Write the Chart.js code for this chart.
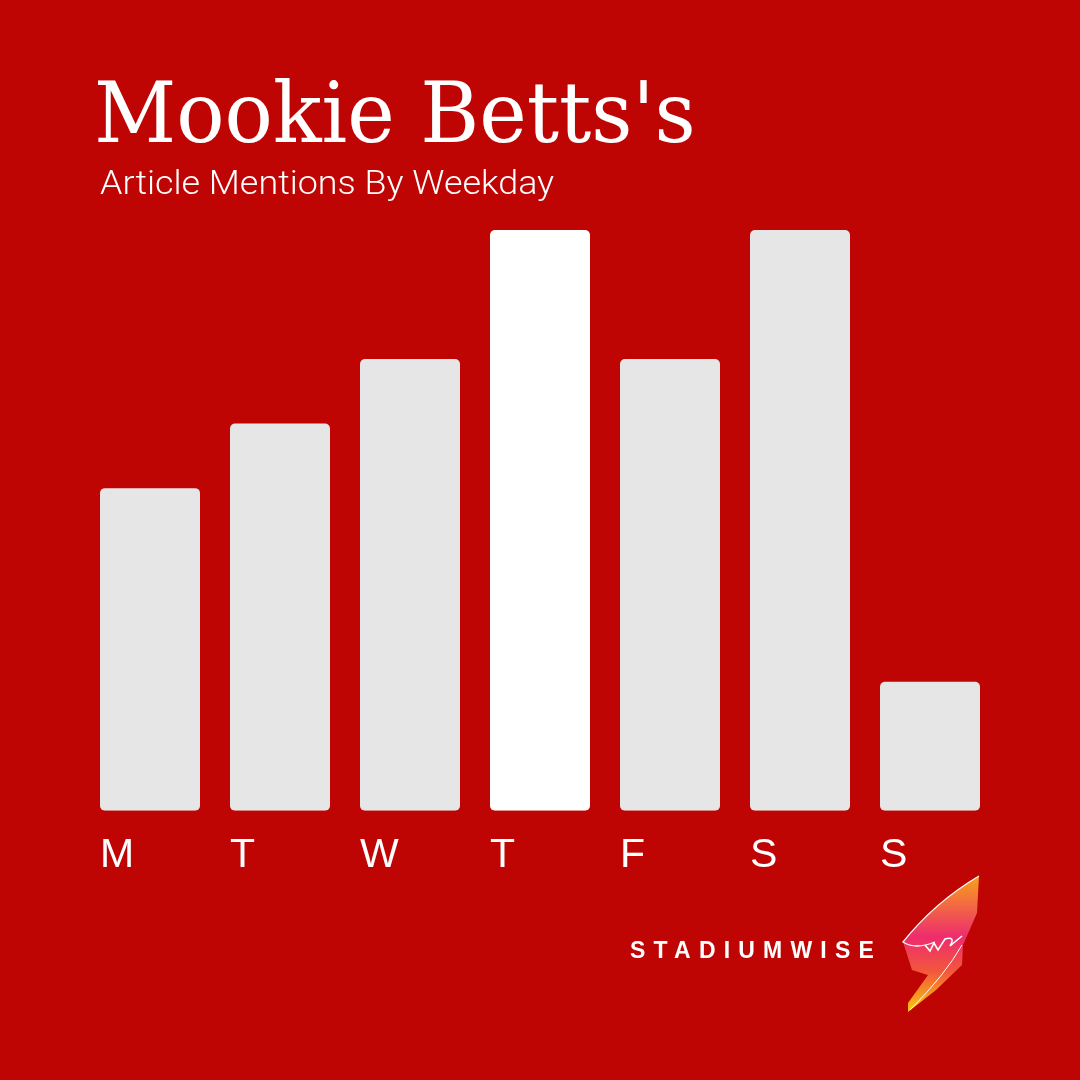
<!DOCTYPE html>
<html lang="en">
<head>
    <meta charset="UTF-8">
    <title>Mookie Betts's Article Mentions By Weekday</title>
    <script src="https://cdn.jsdelivr.net/npm/chart.js"></script>
    <style>
        html, body { margin: 0; padding: 0; }
        body { width: 1080px; height: 1080px; background: #BE0504; position: relative; overflow: hidden; font-family: 'Liberation Sans', Arial, sans-serif; }
        .txt { position: absolute; color: #fff; line-height: 1; white-space: nowrap; }
        .title { font-family: 'DejaVu Serif', serif; font-size: 84px; }
        .subtitle { font-family: Roboto, 'Liberation Sans', sans-serif; font-weight: 300; font-size: 34px; }
        .chart-wrap { position: absolute; left: 0; top: 0; width: 1080px; height: 1080px; }
        .brand { position: absolute; left: 630px; top: 939px; color: #fff; font-weight: 700; font-size: 23px; letter-spacing: 8.2px; line-height: 1; }
        .logo { position: absolute; left: 890px; top: 870px; }
    </style>
</head>
<body>
    <div class="chart-wrap"><canvas id="weekdayChart" width="1080" height="1080"></canvas></div>
    <div class="txt title" id="title">Mookie Betts's</div>
    <div class="txt subtitle" id="subtitle">Article Mentions By Weekday</div>
    <div class="brand">STADIUMWISE</div>
    <svg class="logo" width="100" height="150" viewBox="890 870 100 150">
        <defs>
            <linearGradient id="ribbon" x1="0" y1="0" x2="0" y2="1">
                <stop offset="0" stop-color="#F7A11B"/>
                <stop offset="0.45" stop-color="#EE2C6E"/>
                <stop offset="0.7" stop-color="#F2573C"/>
                <stop offset="1" stop-color="#F9C70F"/>
            </linearGradient>
        </defs>
        <path d="M979 876 L977 913 L963 945 L962 965 L936 990 L908 1012 L908 1003 L928 975 L912 970 L903 942 Q935 902 979 876 Z" fill="url(#ribbon)"/>
        <path d="M979 876 Q935 902 903 942 Q915 950 935 942" fill="none" stroke="#fff" stroke-width="1.3"/>
        <path d="M925 945 L930 951 L934 943 L938 950 L945 939 Q956 936 950 946 L962 936" fill="none" stroke="#fff" stroke-width="1.6"/>
        <path d="M962 945 Q945 975 910 1010" fill="none" stroke="#fff" stroke-width="1"/>
    </svg>

    <script>
        // --- DATA ---
        const days = ['M', 'T', 'W', 'T', 'F', 'S', 'S'];
        const mentions = [5, 6, 7, 9, 7, 9, 2];
        const barColors = ['#E6E6E6', '#E6E6E6', '#E6E6E6', '#FFFFFF', '#E6E6E6', '#E6E6E6', '#E6E6E6'];

        // squeeze a heading to the original's ink width and sit it on its baseline
        function placeText(el, left, baseline, width) {
            const cs = getComputedStyle(el);
            const c = document.createElement('canvas').getContext('2d');
            c.font = cs.fontWeight + ' ' + cs.fontSize + ' ' + cs.fontFamily;
            const m = c.measureText(el.textContent);
            const sx = width / (m.actualBoundingBoxLeft + m.actualBoundingBoxRight);
            el.style.transformOrigin = '0 0';
            el.style.transform = 'scaleX(' + sx + ')';
            el.style.left = (left + m.actualBoundingBoxLeft * sx) + 'px';
            const marker = document.createElement('span');
            marker.style.cssText = 'display:inline-block;width:0;height:0;vertical-align:baseline';
            el.appendChild(marker);
            el.style.top = (baseline - marker.offsetTop) + 'px';
        }
        placeText(document.getElementById('title'), 98, 142, 594);
        placeText(document.getElementById('subtitle'), 100, 194, 454);

        const ctx = document.getElementById('weekdayChart').getContext('2d');
        new Chart(ctx, {
            type: 'bar',
            data: {
                labels: days,
                datasets: [{
                    label: 'Article mentions',
                    data: mentions,
                    backgroundColor: barColors,
                    borderRadius: 5,
                    borderSkipped: false,
                    categoryPercentage: 1,
                    barPercentage: 100 / 130
                }]
            },
            options: {
                responsive: false,
                animation: false,
                layout: { padding: { left: 85, right: 85, top: 230, bottom: 180 } },
                scales: {
                    x: {
                        grid: { display: false, drawTicks: false },
                        border: { display: false },
                        ticks: {
                            color: '#FFFFFF',
                            font: { family: 'Liberation Sans', size: 41 },
                            align: 'start',
                            labelOffset: -50,
                            padding: 20,
                            maxRotation: 0,
                            autoSkip: false
                        }
                    },
                    y: { display: false, min: 0, max: 9 }
                },
                plugins: { legend: { display: false }, tooltip: { enabled: false } }
            }
        });
    </script>
</body>
</html>
